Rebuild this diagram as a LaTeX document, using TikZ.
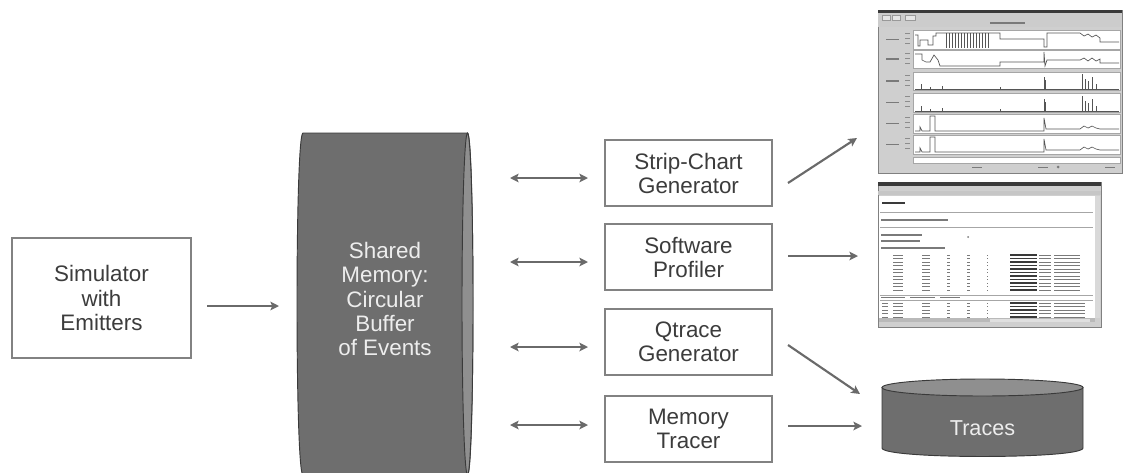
\documentclass[tikz,border=0pt]{standalone}
\usepackage{fontspec}
\setmainfont{Liberation Sans}
\usetikzlibrary{arrows.meta}
\definecolor{boxline}{HTML}{828282}
\definecolor{txt}{HTML}{3C3C3C}
\definecolor{arr}{HTML}{6A6A6A}
\definecolor{cylbody}{HTML}{6E6E6E}
\definecolor{cylface}{HTML}{8F8F8F}
\definecolor{cyledge}{HTML}{3A3A3A}
\definecolor{cyltext}{HTML}{EDEDED}
\definecolor{scrframe}{HTML}{CFCFCF}
\definecolor{scrdark}{HTML}{3A3A3A}
\definecolor{scrmark}{HTML}{7A7A7A}
\definecolor{plotline}{HTML}{555555}
\begin{document}
\begin{tikzpicture}[x=0.75pt,y=-0.75pt,
  lbl/.style={font=\fontsize{16.8}{18}\selectfont, text=txt, align=center},
  biglbl/.style={font=\fontsize{16.8}{18.3}\selectfont, align=center},
  procbox/.style={lbl, draw=boxline, line width=1.1pt, fill=white, inner sep=0pt},
  flow/.style={draw=arr, line width=1.6pt, -{Stealth[length=6.5pt,width=6.5pt,inset=1.5pt]}},
  bothflow/.style={flow, {Stealth[length=6.5pt,width=6.5pt,inset=1.5pt]}-{Stealth[length=6.5pt,width=6.5pt,inset=1.5pt]}},
  cyl/.style={fill=cylbody, draw=cyledge, line width=0.7pt},
  cylcap/.style={fill=cylface, draw=cyledge, line width=0.7pt},
  scrtxt/.style={draw=scrmark, line width=0.9pt},
  plotln/.style={draw=plotline, line width=0.5pt},
  panel/.style={draw=gray!70, fill=white, line width=0.4pt}]
\useasboundingbox (0,0) rectangle (1125,472);
\clip (0,0) rectangle (1125,472);

% ---------- Simulator box ----------
\node[procbox, biglbl, text=txt, minimum width=134.25pt, minimum height=90pt] (sim) at (101.5,298) {Simulator\\with\\Emitters};

% ---------- Shared memory cylinder (on its side) ----------
\path[cyl] (467.5,133) -- (303,133) .. controls (295,133) and (295,475) .. (303,475) -- (467.5,475)
  .. controls (474.8,475) and (474.8,133) .. (467.5,133) -- cycle;
\path[cylcap] (467.5,304) ellipse[x radius=5.5,y radius=171];
\node[biglbl, text=cyltext] (mem) at (385,299) {Shared\\Memory:\\Circular\\Buffer\\of Events};

\coordinate (simout) at (207,306);
\coordinate (memin) at (279,306);
\draw[flow] (simout) -- (memin);

% ---------- Processing boxes ----------
\node[procbox, minimum width=125.25pt, minimum height=49.5pt] (strip) at (688.5,173) {Strip-Chart\\Generator};
\node[procbox, minimum width=125.25pt, minimum height=49.5pt] (prof) at (688.5,257) {Software\\Profiler};
\node[procbox, minimum width=125.25pt, minimum height=49.5pt] (qtr) at (688.5,342) {Qtrace\\Generator};
\node[procbox, minimum width=125.25pt, minimum height=49.5pt] (mtr) at (688.5,429) {Memory\\Tracer};

\coordinate (m1) at (510,178); \coordinate (b1) at (588,178);
\coordinate (m2) at (510,262); \coordinate (b2) at (588,262);
\coordinate (m3) at (510,347); \coordinate (b3) at (588,347);
\coordinate (m4) at (510,425); \coordinate (b4) at (588,425);
\draw[bothflow] (m1) -- (b1);
\draw[bothflow] (m2) -- (b2);
\draw[bothflow] (m3) -- (b3);
\draw[bothflow] (m4) -- (b4);

% ---------- Traces cylinder ----------
\path[cyl] (882,387.5) -- (882,448) .. controls (882,459.3) and (1083,459.3) .. (1083,448) -- (1083,387.5) -- cycle;
\path[cylcap] (982.5,387.5) ellipse[x radius=100.5,y radius=8.5];
\node[text=cyltext, font=\fontsize{16.2}{18}\selectfont] (traces) at (982.5,428) {Traces};

% ---------- Screenshot 1: strip chart ----------
\path[fill=scrframe, draw=gray] (878,10) rectangle (1122,173);
\path[fill=scrdark] (878,10) rectangle (1122,13);
\path[fill=gray!40] (878,13) rectangle (1122,27);
\foreach \a/\b in {882/890,892/900,905/915} \draw[gray!80, fill=gray!20, line width=0.3pt] (\a,15) rectangle (\b,20);
\draw[scrtxt] (990,23) -- (1025,23);
\foreach \t/\bb in {30/49,50/68,72/90,93/112,114/133,135/154}{
  \path[panel] (913,\t) rectangle (1120,\bb);
  \draw[scrtxt] (886,{(\t+\bb)/2}) -- (899,{(\t+\bb)/2});
  \draw[gray!90, line width=0.4pt] (905,\t+3) -- (910,\t+3) (905,\t+8) -- (910,\t+8) (905,\t+13) -- (910,\t+13);
}
\path[panel] (913,157) rectangle (1120,163);
\foreach \x in {977,1043,1110} \draw[scrtxt, line width=0.6pt] (\x-5,167) -- (\x+5,167);
\fill[scrmark] (1058,167) circle (1.5);
% plots
\draw[plotln] (915,35) -- (918,35) -- (918,46) -- (920,46) -- (920,40) -- (928,40) -- (928,45) -- (933,45) -- (933,36) -- (936,36) -- (936,33) -- (945,33) -- (1000,33) -- (1000,39) -- (1044,39) -- (1044,47) -- (1047,47) -- (1047,33) -- (1080,33) -- (1084,36) -- (1088,34) -- (1092,37) -- (1096,35) -- (1100,38) -- (1100,42) -- (1119,42);
\foreach \x in {946,949,...,990} \draw[plotln] (\x,33) -- (\x,48);
\draw[plotln] (915,54) -- (922,54) -- (922,60) -- (926,62) -- (930,62) -- (934,55) -- (938,60) -- (940,66) -- (1000,66) -- (1000,62) -- (1044,62) -- (1044,52) -- (1045,66) -- (1047,60) -- (1080,60) -- (1084,58) -- (1088,61) -- (1092,58) -- (1096,61) -- (1100,59) -- (1100,63) -- (1119,63);
\foreach \base in {89,111}{
  \draw[plotln] (915,\base) -- (1119,\base);
  \foreach \x/\h in {921/5,930/2,942/3,1000/2,1044/12,1045/9,1082/15,1085/10,1088/8,1092/12,1096/5}
    \draw[plotln] (\x,\base) -- (\x,\base-\h);
}
\foreach \t/\bb in {114/133,135/154}{
  \draw[plotln] (915,\bb-2) -- (920,\bb-2) -- (920,\bb-6) -- (922,\bb-2) -- (930,\bb-2) -- (930,\t+2) -- (935,\t+2) -- (935,\bb-2) -- (1044,\bb-2) -- (1044,\t+4) -- (1046,\bb-4) -- (1080,\bb-4) -- (1084,\bb-7) -- (1088,\bb-5) -- (1092,\bb-7) -- (1096,\bb-5) -- (1100,\bb-4) -- (1119,\bb-4);
}

% ---------- Screenshot 2: profiler ----------
\path[fill=scrframe, draw=gray] (878,182) rectangle (1101,327);
\path[fill=scrdark] (878,182) rectangle (1101,186);
\path[fill=gray!45] (878,191) rectangle (1101,195);
\path[fill=white] (879,196) rectangle (1095,318);
\path[fill=gray!30] (1095,196) rectangle (1100,318);
\path[fill=gray!55] (879,318) rectangle (1095,322);
\path[fill=gray!25] (990,318.5) rectangle (1090,321.5);
\draw[scrdark, line width=2pt] (882,203) -- (905,203);
\draw[gray!70, line width=0.4pt] (880,212) -- (1093,212) (880,227) -- (1093,227);
\draw[scrtxt] (881,220) -- (948,220);
\draw[scrtxt] (881,235) -- (922,235) (881,241) -- (920,241) (881,248) -- (945,248);
\fill[scrmark] (968,237) circle (1);
\foreach \y in {255,258.5,...,292}{
  \draw[scrtxt, line width=0.6pt] (893,\y) -- (903,\y) (922,\y) -- (930,\y) (947,\y) -- (950,\y)
    (967,\y) -- (970,\y) (987,\y) -- (988,\y);
  \draw[scrdark, line width=1.2pt] (1010,\y) -- (1037,\y);
  \draw[scrtxt, line width=0.7pt] (1039,\y) -- (1051,\y) (1054,\y) -- (1080,\y);
}
\draw[gray!70, line width=0.4pt] (880,295) -- (1093,295) (880,300) -- (1093,300);
\draw[scrtxt, line width=0.6pt] (881,297.5) -- (905,297.5) (910,297.5) -- (935,297.5) (940,297.5) -- (960,297.5);
\foreach \y in {303,306.5,...,317}{
  \draw[scrtxt, line width=0.6pt] (882,\y) -- (888,\y) (893,\y) -- (903,\y) (922,\y) -- (930,\y) (947,\y) -- (950,\y)
    (967,\y) -- (970,\y) (987,\y) -- (988,\y);
  \draw[scrdark, line width=1.2pt] (1010,\y) -- (1037,\y);
  \draw[scrtxt, line width=0.7pt] (1039,\y) -- (1051,\y) (1054,\y) -- (1085,\y);
}

% ---------- Output arrows ----------
\coordinate (s1) at (788,183); \coordinate (s1e) at (857,138);
\coordinate (p1) at (788,256); \coordinate (p1e) at (858,256);
\coordinate (q1) at (788,345); \coordinate (q1e) at (860,394);
\coordinate (t1) at (788,426); \coordinate (t1e) at (862,426);
\draw[flow] (s1) -- (s1e);
\draw[flow] (p1) -- (p1e);
\draw[flow] (q1) -- (q1e);
\draw[flow] (t1) -- (t1e);
\end{tikzpicture}
\end{document}
